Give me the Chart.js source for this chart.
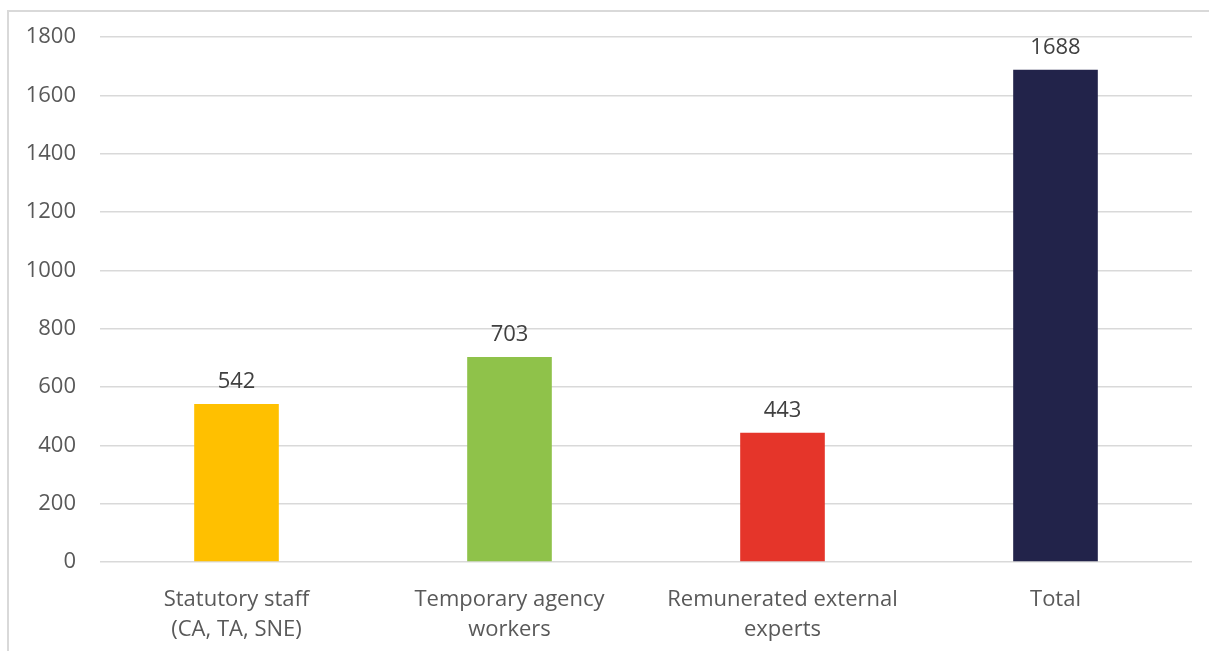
<!DOCTYPE html>
<html lang="en">
<head>
  <meta charset="UTF-8" />
  <title>Staff numbers</title>
  <script src="https://cdn.jsdelivr.net/npm/chart.js"></script>
  <style>
    html, body {
      margin: 0;
      padding: 0;
      background: #fff;
    }
    #wrap {
      position: relative;
      width: 1209px;
      height: 651px;
    }
    #frame {
      position: absolute;
      left: 7px;
      top: 10px;
      right: 0;
      bottom: 0;
      border-left: 2px solid #d9d9d9;
      border-top: 2px solid #d9d9d9;
    }
    canvas {
      position: absolute;
      left: 0;
      top: 0;
    }
  </style>
</head>
<body>
  <div id="wrap">
    <div id="frame"></div>
    <canvas id="staffChart" width="1209" height="651"></canvas>
  </div>

  <script>
    const categories = [
      ['Statutory staff', '(CA, TA, SNE)'],
      ['Temporary agency', 'workers'],
      ['Remunerated external', 'experts'],
      'Total'
    ];
    const staffCounts = [542, 703, 443, 1688];
    const barColors = ['#FFC000', '#8FC24A', '#E5352A', '#22234A'];
    const yTicks = [0, 200, 400, 600, 800, 1000, 1200, 1400, 1600, 1800];

    const fontFamily = '"Open Sans", "Liberation Sans", sans-serif';

    // draws the value above each bar
    const valueLabels = {
      id: 'valueLabels',
      afterDatasetsDraw(chart) {
        const ctx = chart.ctx;
        const meta = chart.getDatasetMeta(0);
        ctx.save();
        ctx.font = '22px ' + fontFamily;
        ctx.fillStyle = '#404040';
        ctx.textAlign = 'center';
        ctx.textBaseline = 'middle';
        meta.data.forEach((bar, i) => {
          ctx.fillText(String(staffCounts[i]), bar.x, bar.y - 22);
        });
        ctx.restore();
      }
    };

    new Chart(document.getElementById('staffChart'), {
      type: 'bar',
      data: {
        labels: categories,
        datasets: [{
          data: staffCounts,
          backgroundColor: barColors,
          barPercentage: 0.31,
          categoryPercentage: 1
        }]
      },
      options: {
        responsive: false,
        animation: false,
        layout: {
          padding: { top: 32, right: 17, bottom: 0, left: 0 }
        },
        plugins: {
          legend: { display: false },
          tooltip: { enabled: false }
        },
        scales: {
          x: {
            grid: { display: false },
            border: { display: false },
            ticks: {
              color: '#595959',
              font: { family: fontFamily, size: 22, lineHeight: 1.4 },
              padding: 14,
              maxRotation: 0,
              autoSkip: false
            },
            afterFit(scale) { scale.height = 89; }
          },
          y: {
            min: 0,
            max: 1800,
            afterBuildTicks(scale) {
              scale.ticks = yTicks.map(v => ({ value: v }));
            },
            grid: {
              color: '#d9d9d9',
              lineWidth: 1.5,
              drawTicks: false
            },
            border: { display: false },
            ticks: {
              color: '#595959',
              font: { family: fontFamily, size: 22 },
              padding: 24,
              callback: v => String(v)
            },
            afterFit(scale) { scale.width = 100; }
          }
        }
      },
      plugins: [valueLabels]
    });
  </script>
</body>
</html>
